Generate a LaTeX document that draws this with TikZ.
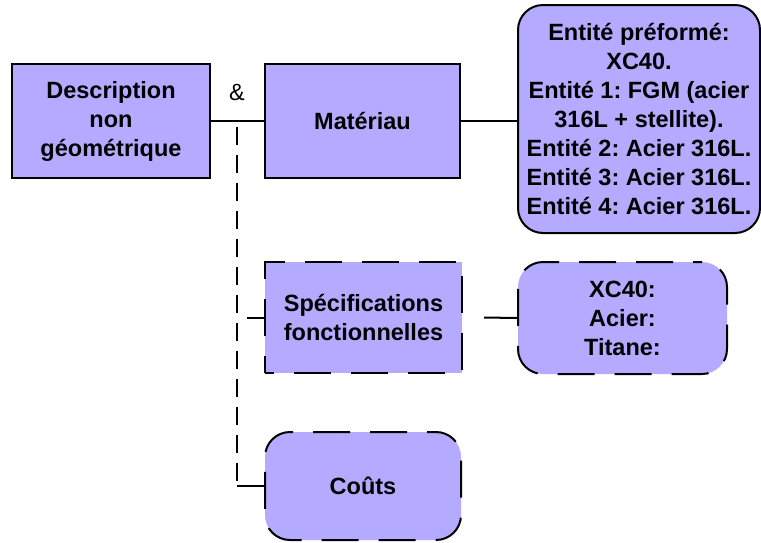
\documentclass[tikz,border=0pt]{standalone}
\usepackage{fontspec}
\setmainfont{Liberation Sans}
\usepackage{tikz}
\usetikzlibrary{positioning,calc}
\usepackage{xcolor}
\definecolor{boxpurple}{RGB}{180,170,255}
\frenchspacing

\begin{document}
\begin{tikzpicture}[x=1pt,y=-1pt]
  \tikzstyle{bloc}=[rectangle, draw=black, line width=2pt, fill=boxpurple, inner sep=0pt, align=center, font=\fontsize{23.5}{29}\selectfont\bfseries]
  \tikzstyle{option}=[bloc, dash pattern=on 37pt off 20pt, dash phase=28pt]
  \tikzstyle{lien}=[line width=2pt]
  \useasboundingbox (0,0) rectangle (761,542);
  \node[bloc, minimum width=198pt, minimum height=114pt] (desc) at (111,121) {Description\\non\\géométrique};
  \node[bloc, minimum width=195pt, minimum height=114pt] (mat) at (362.5,121) {Matériau};
  \node[bloc, rounded corners=25pt, minimum width=242pt, minimum height=228pt] (entites) at (639,119) {Entité préformé:\\XC40.\\Entité 1: FGM (acier\\316L + stellite).\\Entité 2: Acier 316L.\\Entité 3: Acier 316L.\\Entité 4: Acier 316L.};
  \node[option, minimum width=197pt, minimum height=111pt] (spec) at (363.5,317.5) {Spécifications\\fonctionnelles};
  \node[option, rounded corners=25pt, minimum width=209pt, minimum height=112pt] (xc) at (622.5,318) {XC40:\\Acier:\\Titane:};
  \node[option, rounded corners=25pt, minimum width=196pt, minimum height=108pt] (couts) at (363,486) {Coûts};
  \node[font=\fontsize{23.5}{29}\selectfont] (et) at (237,92) {\&};
  \coordinate (tronc) at (237,121);
  \coordinate (coin) at (tronc |- couts.west);
  \draw[lien] (desc.east) -- (mat.west);
  \draw[lien] (mat.east) -- (mat.east -| entites.west);
  \draw[lien, dash pattern=on 18pt off 10pt, dash phase=-6pt] (tronc) -- (coin);
  \draw[lien] (coin) -- (couts.west);
  \draw[lien] ([xshift=-17pt]spec.west) -- (spec.west);
  \draw[lien] ([xshift=21pt]spec.east) -- (xc.west);
\end{tikzpicture}
\end{document}
